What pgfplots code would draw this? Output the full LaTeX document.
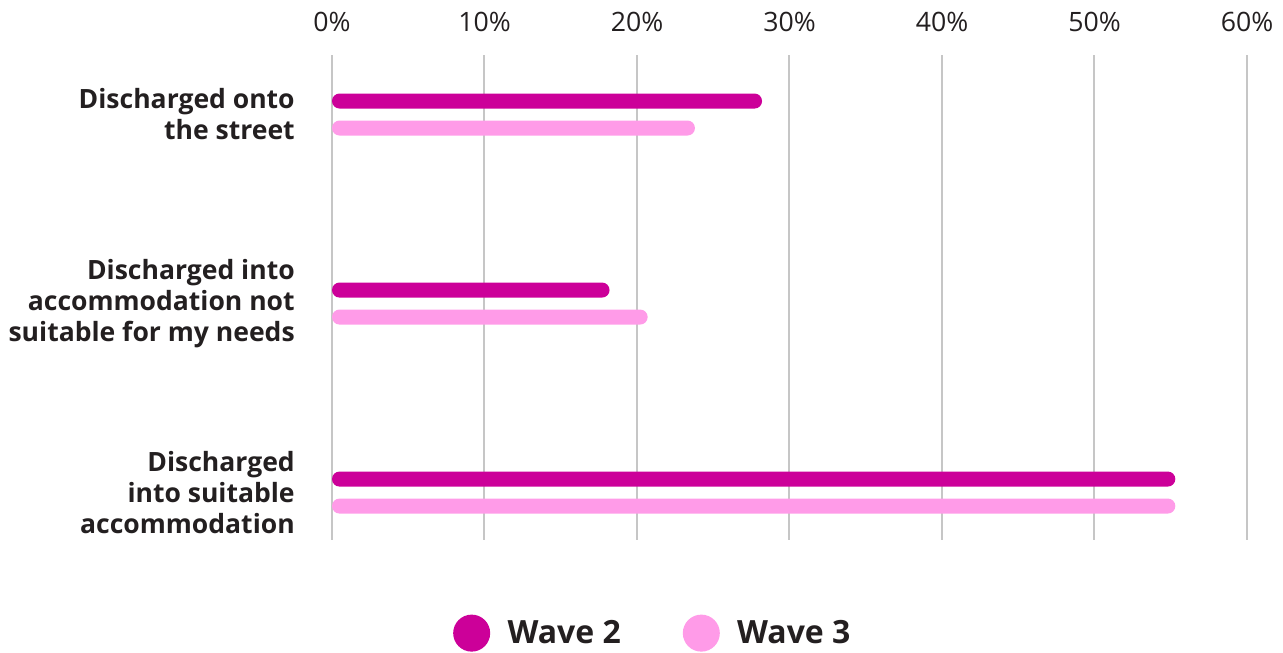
\documentclass[border=0pt]{standalone}
\usepackage{fontspec}
\setmainfont{Open Sans}
\usepackage{pgfplots}
\usepackage{pgfplotstable}
\pgfplotsset{compat=1.18}

\definecolor{wavetwo}{HTML}{CC0099}
\definecolor{wavethree}{HTML}{FF9BE8}
\definecolor{inkdark}{HTML}{231F20}
\definecolor{gridgrey}{HTML}{C6C6C6}

% share of respondents (%) by discharge outcome
\pgfplotstableread{
idx w2   w3
0   28.2 23.8
1   18.2 20.7
2   55.3 55.3
}\discharge

\begin{document}
\begin{tikzpicture}
\path[use as bounding box] (-249pt,-84.75pt) rectangle (713.25pt,405pt);
\begin{axis}[
  at={(0,0)}, anchor=south west,
  scale only axis,
  width=686.25pt, height=363.75pt,
  xmin=0, xmax=60,
  ymin=-0.315, ymax=2.251,
  y dir=reverse,
  xbar,
  bar width=11.25pt,
  axis line style={draw=none},
  major tick length=0pt,
  xtick={0,10,...,60},
  xticklabels={0\%,10\%,20\%,30\%,40\%,50\%,60\%},
  xticklabel pos=upper,
  xticklabel style={font=\fontsize{20pt}{24pt}\selectfont, text=inkdark, anchor=base, yshift=17.5pt},
  xmajorgrids,
  grid style={gridgrey, line width=1.5pt},
  ytick={0,1,2},
  yticklabels={{Discharged onto\\the street},
               {Discharged into\\accommodation not\\suitable for my needs},
               {Discharged\\into suitable\\accommodation}},
  yticklabel style={font=\fontsize{19.9pt}{23.25pt}\selectfont\bfseries, text=inkdark,
                    align=right, anchor=east, inner sep=0pt, xshift=-27.75pt},
  legend columns=2,
  legend style={at={(axis description cs:0.351,-0.192)}, anchor=center, draw=none,
                font=\fontsize{24pt}{28pt}\selectfont\bfseries, text=inkdark,
                /tikz/every odd column/.append style={column sep=11pt},
                /tikz/every even column/.append style={column sep=44.5pt}},
  legend image code/.code={\fill[#1, draw=none] (13.875pt,0pt) circle (13.875pt);},
]
\addplot[fill=wavetwo, draw=none, rounded corners=5.6pt, bar shift=10.125pt]
  table[x=w2, y=idx] {\discharge};
\addlegendentry{Wave 2}
\addplot[fill=wavethree, draw=none, rounded corners=5.6pt, bar shift=-10.125pt]
  table[x=w3, y=idx] {\discharge};
\addlegendentry{Wave 3}
\end{axis}
\end{tikzpicture}
\end{document}
